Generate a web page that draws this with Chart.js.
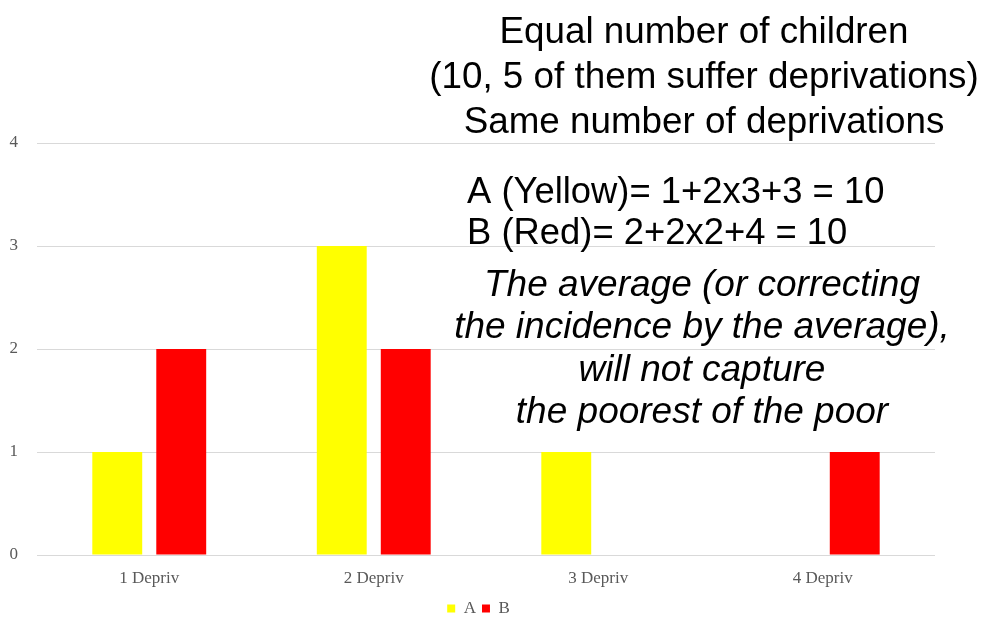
<!DOCTYPE html>
<html lang="en">
<head>
<meta charset="UTF-8" />
<title>Deprivations A vs B</title>
<script src="https://cdn.jsdelivr.net/npm/chart.js"></script>
<style>
  html, body { margin: 0; padding: 0; background: #fff; overflow: hidden; }
  #wrap { width: 984px; height: 617px; position: relative; }
</style>
</head>
<body>
<div id="wrap"><canvas id="chart"></canvas></div>
<script>
// data
const categories = ['1 Depriv', '2 Depriv', '3 Depriv', '4 Depriv'];
const seriesA = [1, 3, 1, 0];   // yellow
const seriesB = [2, 2, 0, 1];   // red
const yMin = 0, yMax = 4, yStep = 1;

const headLines = [
  'Equal number of children',
  '(10, 5 of them suffer deprivations)',
  'Same number of deprivations'
];
const sumLines = [
  'A (Yellow)= 1+2x3+3 = 10',
  'B (Red)= 2+2x2+4 = 10'
];
const noteLines = [
  'The average (or correcting',
  'the incidence by the average),',
  'will not capture',
  'the poorest of the poor'
];

const grey = '#595959';
const serif = '"Liberation Serif", "Times New Roman", serif';
const sans = '"Liberation Sans", Arial, sans-serif';

// text box drawn over the plot
const notes = {
  id: 'notes',
  afterDraw(chart) {
    const ctx = chart.ctx;
    ctx.save();
    ctx.fillStyle = '#000';
    ctx.textBaseline = 'alphabetic';
    ctx.font = '36.8px ' + sans;
    ctx.textAlign = 'center';
    headLines.forEach((t, i) => ctx.fillText(t, 704, 43 + i * 45));
    ctx.font = '36.4px ' + sans;
    ctx.textAlign = 'left';
    sumLines.forEach((t, i) => ctx.fillText(t, 467, 203 + i * 41));
    ctx.font = 'italic 37px ' + sans;
    ctx.textAlign = 'center';
    noteLines.forEach((t, i) => ctx.fillText(t, 702, 296 + i * 42.3));
    ctx.restore();
  }
};

const chart = new Chart(document.getElementById('chart'), {
  type: 'bar',
  data: {
    labels: categories,
    datasets: [
      { label: 'A', data: seriesA, backgroundColor: '#FFFF00', borderWidth: 0 },
      { label: 'B', data: seriesB, backgroundColor: '#FF0000', borderWidth: 0 }
    ]
  },
  options: {
    responsive: true,
    maintainAspectRatio: false,
    animation: false,
    categoryPercentage: 0.57,
    barPercentage: 0.78,
    layout: { padding: { top: 143, right: 27, left: 0, bottom: -10 } },
    plugins: {
      tooltip: { enabled: false },
      legend: {
        position: 'bottom',
        labels: {
          boxWidth: 8, boxHeight: 8, padding: 6,
          color: grey,
          font: { family: serif, size: 17 }
        }
      }
    },
    scales: {
      x: {
        grid: { display: false, drawTicks: false },
        border: { display: false },
        ticks: { color: grey, font: { family: serif, size: 17 }, padding: 13 },
        afterFit: s => { s.height = 39; }
      },
      y: {
        min: yMin, max: yMax,
        grid: { color: '#d9d9d9', lineWidth: 1, drawTicks: false },
        border: { display: false },
        ticks: { stepSize: yStep, color: grey, font: { family: serif, size: 17 }, padding: 19 },
        afterFit: s => { s.width = 37; }
      },
      // empty right-hand spacer so the legend sits where it does in the picture
      yRight: {
        position: 'right',
        grid: { display: false, drawTicks: false },
        border: { display: false },
        ticks: { display: false },
        afterFit: s => { s.width = 22; }
      }
    }
  },
  plugins: [notes]
});
</script>
</body>
</html>
